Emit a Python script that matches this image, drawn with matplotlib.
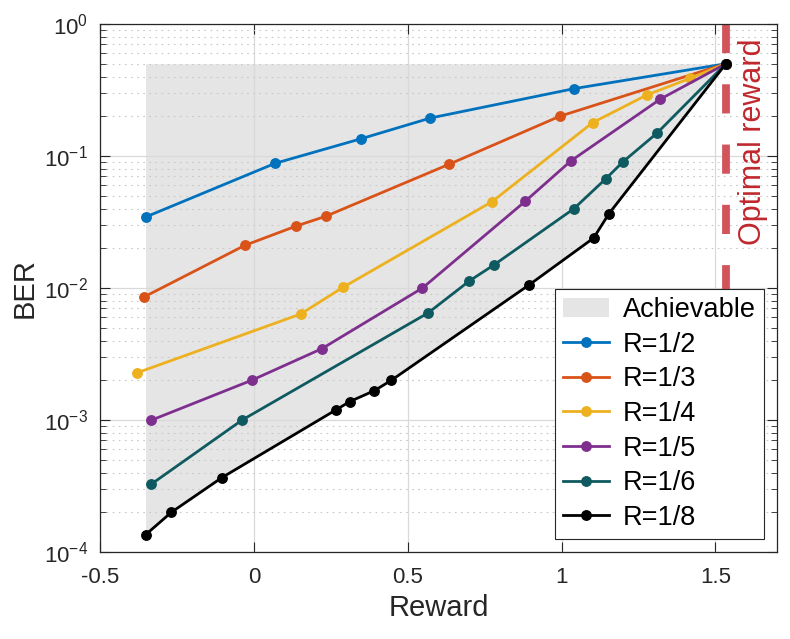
import numpy as np
import matplotlib
matplotlib.use("Agg")
import matplotlib.pyplot as plt
from matplotlib.ticker import LogLocator, FixedLocator, NullFormatter

plt.rcParams["font.family"] = ["Liberation Sans", "DejaVu Sans"]
plt.rcParams["mathtext.default"] = "regular"

# data
opt_reward = 1.534
top_ber = 0.5

r2_x = [-0.349, 0.069, 0.348, 0.574, 1.041, 1.534]
r2_y = [0.0347, 0.088, 0.135, 0.194, 0.324, 0.5]

r3_x = [-0.357, -0.030, 0.138, 0.233, 0.634, 0.994, 1.534]
r3_y = [0.00855, 0.021, 0.0295, 0.0349, 0.0865, 0.20, 0.5]

r4_x = [-0.379, 0.152, 0.289, 0.774, 1.101, 1.277, 1.418, 1.534]
r4_y = [0.00228, 0.00635, 0.0101, 0.0451, 0.179, 0.29, 0.388, 0.5]

r5_x = [-0.334, -0.007, 0.221, 0.548, 0.882, 1.030, 1.321, 1.534]
r5_y = [0.000995, 0.002, 0.00347, 0.010, 0.0454, 0.0917, 0.27, 0.5]

r6_x = [-0.333, -0.038, 0.566, 0.700, 0.781, 1.040, 1.143, 1.200, 1.310, 1.534]
r6_y = [0.000327, 0.001, 0.00647, 0.0113, 0.015, 0.0399, 0.067, 0.0906, 0.149, 0.5]

r8_x = [-0.352, -0.268, -0.104, 0.266, 0.312, 0.392, 0.447, 0.893, 1.104, 1.154, 1.534]
r8_y = [0.000135, 0.0002, 0.000366, 0.00119, 0.00138, 0.00167, 0.002, 0.0105, 0.0239, 0.0366, 0.5]

labels = ["R=1/2", "R=1/3", "R=1/4", "R=1/5", "R=1/6", "R=1/8"]
colors = ["#0072BD", "#D95319", "#EDB120", "#7E2F8E", "#0F5A60", "#000000"]

fig = plt.figure(figsize=(7.9, 6.39), dpi=100)
ax = fig.add_axes([100 / 790, 1 - 552 / 639, 677 / 790, 528 / 639])

ax.fill_between(r8_x, r8_y, top_ber, color="#e5e5e5", linewidth=0, label="Achievable")

series = [(r2_x, r2_y), (r3_x, r3_y), (r4_x, r4_y), (r5_x, r5_y), (r6_x, r6_y), (r8_x, r8_y)]
for (xs, ys), lab, c in zip(series, labels, colors):
    ax.plot(xs, ys, "-o", color=c, lw=2.0, ms=6.8, label=lab)

ax.plot([opt_reward, opt_reward], [1, 1e-4], color="#d1545a", lw=5.6,
        dashes=(3.75, 4.0), zorder=1.8)
ax.text(0.9646, 0.7765, "Optimal reward", transform=ax.transAxes, rotation=90,
        ha="center", va="center", fontsize=22, color="#c0282d")

ax.set_yscale("log")
ax.set_xlim(-0.5, 1.7)
ax.set_ylim(1e-4, 1)
ax.xaxis.set_major_locator(FixedLocator([-0.5, 0, 0.5, 1, 1.5]))
ax.set_xticklabels(["-0.5", "0", "0.5", "1", "1.5"])
ax.yaxis.set_major_locator(LogLocator(base=10, numticks=10))
ax.yaxis.set_minor_locator(LogLocator(base=10, subs=np.arange(2, 10), numticks=20))
ax.yaxis.set_minor_formatter(NullFormatter())

ax.grid(True, which="major", color="#d9d9d9", lw=0.9, ls="-")
ax.grid(True, which="minor", axis="y", color="#c8c8c8", lw=0.8, ls=(0, (1.5, 4)))

ax.tick_params(which="both", direction="in", top=True, right=True,
               colors="#262626", labelsize=16)
ax.tick_params(which="major", length=7, width=0.8)
ax.tick_params(which="minor", length=4, width=0.6)
ax.tick_params(axis="x", which="major", pad=11)
ax.tick_params(axis="y", which="major", pad=8.5)
for s in ax.spines.values():
    s.set_color("#262626")
    s.set_linewidth(0.9)

ax.set_xlabel("Reward", fontsize=21, color="#262626", labelpad=4)
ax.set_ylabel("BER", fontsize=21, color="#262626", labelpad=4)

leg = ax.legend(loc="lower right", bbox_to_anchor=(764 / 790, 1 - 539 / 639),
                bbox_transform=fig.transFigure, fontsize=19.5, handlelength=1.7,
                labelspacing=0.32, borderpad=0.3, handletextpad=0.5,
                fancybox=False, framealpha=1, edgecolor="#262626",
                borderaxespad=0)
leg.get_frame().set_linewidth(0.8)

fig.savefig("out.png", dpi=100)
